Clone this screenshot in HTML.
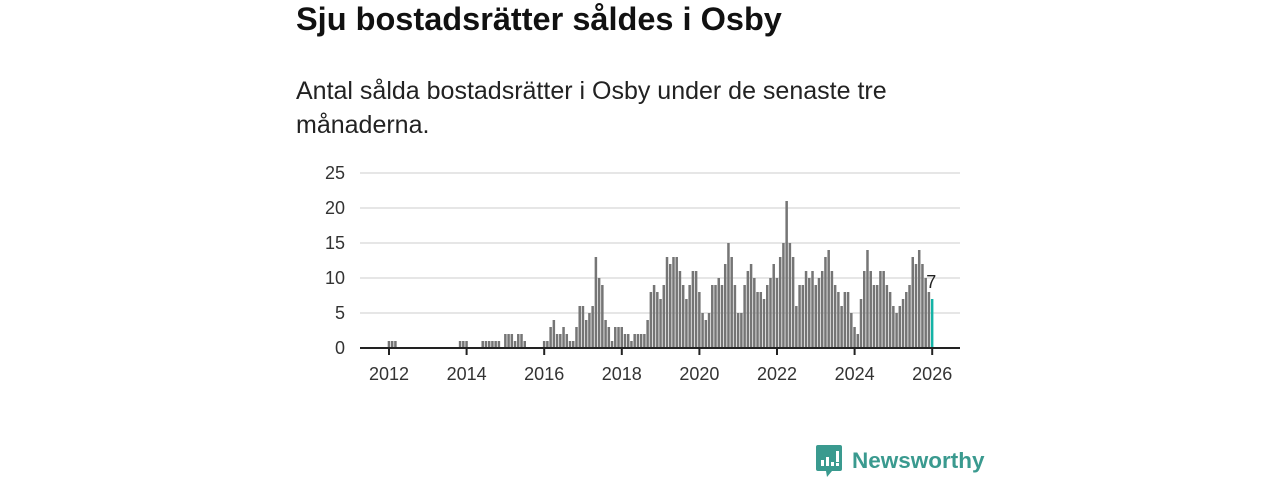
<!DOCTYPE html>
<html><head><meta charset="utf-8"><style>
body{margin:0;width:1280px;height:480px;background:#fff;font-family:"Liberation Sans","DejaVu Sans",sans-serif;overflow:hidden;position:relative}
h1{position:absolute;left:296px;top:1px;margin:0;font-size:32.5px;font-weight:bold;color:#111}
p.sub{position:absolute;left:296px;top:74px;margin:0;font-size:25px;line-height:34px;color:#222;width:640px}
svg{position:absolute;left:0;top:0}
.logo{position:absolute;left:816px;top:445px;display:flex;align-items:center;color:#3a9a8f;font-size:22.5px;font-weight:bold}
</style></head><body>
<h1>Sju bostadsrätter såldes i Osby</h1>
<p class="sub">Antal sålda bostadsrätter i Osby under de senaste tre månaderna.</p>
<svg id="chart" width="1280" height="480"></svg>
<div class="logo">
<svg width="26" height="32" style="position:static;margin-right:10px"><path d="M0 2a2 2 0 0 1 2-2h22a2 2 0 0 1 2 2v22a2 2 0 0 1-2 2h-8l-5 6-1-6H2a2 2 0 0 1-2-2z" fill="#3a9a8f"/><rect x="5" y="15" width="3" height="6" fill="#fff"/><rect x="10" y="12" width="3" height="9" fill="#fff"/><rect x="15" y="17" width="3" height="4" fill="#fff"/><rect x="20" y="6" width="3" height="11" fill="#fff"/><rect x="20" y="18" width="3" height="3" fill="#fff"/></svg>
<span>Newsworthy</span></div>
<script>
const yTicks=[0,5,10,15,20,25];
const xTickYears=[2012,2014,2016,2018,2020,2022,2024,2026];
const startYear=2012;
const values=[
1,1,1,0,0,0,0,0,0,0,0,0,
0,0,0,0,0,0,0,0,0,0,1,1,
1,0,0,0,0,1,1,1,1,1,1,0,
2,2,2,1,2,2,1,0,0,0,0,0,
1,1,3,4,2,2,3,2,1,1,3,6,
6,4,5,6,13,10,9,4,3,1,3,3,
3,2,2,1,2,2,2,2,4,8,9,8,
7,9,13,12,13,13,11,9,7,9,11,11,
8,5,4,5,9,9,10,9,12,15,13,9,
5,5,9,11,12,10,8,8,7,9,10,12,
10,13,15,21,15,13,6,9,9,11,10,11,
9,10,11,13,14,11,9,8,6,8,8,5,
3,2,7,11,14,11,9,9,11,11,9,8,
6,5,6,7,8,9,13,12,14,12,10,8,
7];
const NS="http://www.w3.org/2000/svg";
const svg=document.getElementById('chart');
const x0=389,yearW=38.8,y0=348,yScale=7;
const xPos=i=>x0+i*yearW/12;
const yPos=v=>y0-v*yScale;
function mk(t,a){const e=document.createElementNS(NS,t);for(const k in a)e.setAttribute(k,a[k]);svg.appendChild(e);return e;}
yTicks.forEach(v=>{
 if(v>0){const g=mk('line',{x1:360,x2:960,y1:yPos(v),y2:yPos(v),stroke:'#ddd','stroke-width':1.5});
 
 }
 const t=mk('text',{x:345,y:yPos(v)+6,'text-anchor':'end','font-size':18,fill:'#333'});
 t.textContent=v;
 
 
});
values.forEach((v,i)=>{
 if(v<=0)return;
 const last=i===values.length-1;
 const r=mk('rect',{x:xPos(i)-1.3,y:yPos(v),width:2.5,height:v*yScale,fill:last?'#14b3a6':'#757575'});
 
 
});
const li=values.length-1;
const lab=mk('text',{x:xPos(li)-1,y:yPos(values[li])-11,'text-anchor':'middle','font-size':18,fill:'#222'});
lab.textContent=values[li];


const ax=mk('line',{x1:360,x2:960,y1:y0,y2:y0,stroke:'#222','stroke-width':2});


xTickYears.forEach(yr=>{
 const x=xPos((yr-startYear)*12);
 const tk=mk('line',{x1:x,x2:x,y1:y0,y2:y0+7,stroke:'#222','stroke-width':2});
 
 
 const t=mk('text',{x:x,y:380,'text-anchor':'middle','font-size':18,fill:'#333'});
 t.textContent=yr;
 
 
});
</script>
</body></html>
